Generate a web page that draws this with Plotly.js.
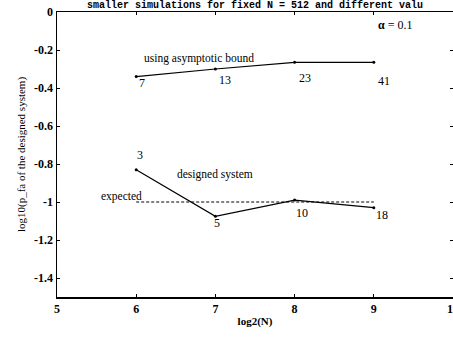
<!DOCTYPE html>
<html>
<head>
<meta charset="utf-8">
<script src="https://cdn.plot.ly/plotly-3.0.1.min.js"></script>
<style>html,body{margin:0;padding:0;background:#fff;}#chart{width:453px;height:337px;}</style>
</head>
<body>
<div id="chart"></div>
<script>
// Data
const log2N = [6, 7, 8, 9];
const asymptoticBound = [-0.34, -0.30, -0.265, -0.265];
const asymptoticLabels = ['7', '13', '23', '41'];
const designedSystem = [-0.83, -1.075, -0.99, -1.03];
const designedLabels = ['3', '5', '10', '18'];
const expectedX = [6, 9];
const expectedY = [-1, -1];
const xTicks = [5, 6, 7, 8, 9, 10];
const yTicks = [0, -0.2, -0.4, -0.6, -0.8, -1, -1.2, -1.4];
const yTickText = ['0', '-0.2', '-0.4', '-0.6', '-0.8', '-1', '-1.2', '-1.4'];

const serif = 'Liberation Serif, Times New Roman, serif';
function f(size, family) { return {family: family || serif, size: size, color: '#000000'}; }

const traces = [
  {x: log2N, y: asymptoticBound, mode: 'lines+markers', line: {color: '#000', width: 1.2},
   marker: {color: '#000', size: 3}, hoverinfo: 'skip'},
  {x: log2N, y: designedSystem, mode: 'lines+markers', line: {color: '#000', width: 1.2},
   marker: {color: '#000', size: 3}, hoverinfo: 'skip'},
  {x: expectedX, y: expectedY, mode: 'lines', line: {color: '#000', width: 1, dash: '3px,2px'},
   hoverinfo: 'skip'}
];

const annotations = [];
// point count labels (offsets in pixels)
const asymOff = [[6, -6], [10, -11], [10, -16], [10, -19]];
asymptoticLabels.forEach((t, i) => annotations.push({
  x: log2N[i], y: asymptoticBound[i], text: t, showarrow: false,
  xshift: asymOff[i][0], yshift: asymOff[i][1], font: f(12)
}));
const desOff = [[4, 15], [2, -7], [7, -13], [8, -7]];
designedLabels.forEach((t, i) => annotations.push({
  x: log2N[i], y: designedSystem[i], text: t, showarrow: false,
  xshift: desOff[i][0], yshift: desOff[i][1], font: f(12)
}));
annotations.push(
  {x: 6.79, y: -0.245, text: 'using asymptotic bound', showarrow: false, font: f(11.5)},
  {x: 7.0, y: -0.855, text: 'designed system', showarrow: false, font: f(11.5)},
  {x: 5.81, y: -0.97, text: 'expected', showarrow: false, font: f(11.5)},
  {x: 9.27, y: -0.07, text: '<b>\u03b1</b> = 0.1', showarrow: false, font: f(12)},
  {xref: 'paper', yref: 'paper', x: 0.5, y: 1.0, yanchor: 'bottom', yshift: -1,
   text: '<b>smaller simulations for fixed N = 512 and different valu</b>',
   showarrow: false, font: f(10, 'Liberation Mono, Courier New, monospace')}
);

const layout = {
  width: 453, height: 337,
  margin: {l: 57, r: 0, t: 12, b: 40},
  paper_bgcolor: '#fff', plot_bgcolor: '#fff',
  showlegend: false,
  font: f(12),
  xaxis: {
    range: [5, 10], tickvals: xTicks, ticktext: xTicks.map(v => '<b>' + v + '</b>'),
    ticklabeloverflow: 'allow',
    showgrid: false, zeroline: false, showline: true, linecolor: '#000', linewidth: 1.5,
    mirror: 'ticks', ticks: 'inside', ticklen: 3, tickcolor: '#000',
    tickfont: f(12),
    title: {text: '<b>log2(N)</b>', font: f(11), standoff: 2}
  },
  yaxis: {
    range: [-1.5, 0], tickvals: yTicks, ticktext: yTickText.map(v => '<b>' + v + '</b>'),
    showgrid: false, zeroline: false, showline: true, linecolor: '#000', linewidth: 1.5,
    mirror: 'ticks', ticks: 'inside', ticklen: 3, tickcolor: '#000',
    tickfont: f(12),
    title: {text: 'log10(p_fa of the designed system)', font: f(11), standoff: 6}
  },
  annotations: annotations
};

Plotly.newPlot('chart', traces, layout, {staticPlot: true, displayModeBar: false});
</script>
</body>
</html>
